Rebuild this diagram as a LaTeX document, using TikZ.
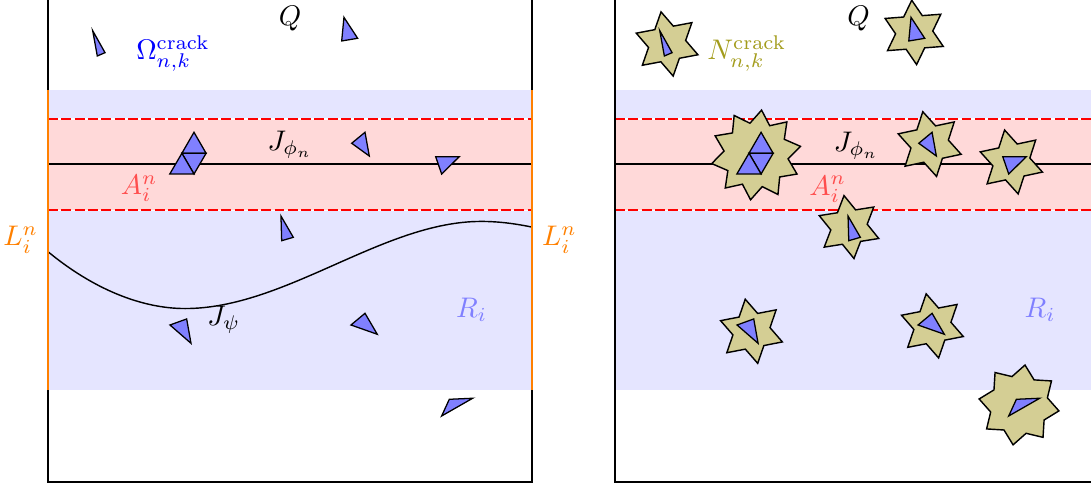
\documentclass[tikz,border=0pt]{standalone}
\usepackage{xcolor}
\usepackage{tikz}
\usetikzlibrary{shapes.geometric}
\definecolor{CBand}{HTML}{E5E5FF}
\definecolor{CStrip}{HTML}{FFD9D9}
\definecolor{CCrack}{HTML}{8080FF}
\definecolor{CNbhd}{HTML}{D4CE94}
\definecolor{CNbhdText}{HTML}{A39C1C}
\definecolor{CStripText}{HTML}{FF4D4D}

\newcommand{\bandsandlines}{%
  \fill[CBand] (0,1.14) rectangle (6,4.86);
  \fill[CStrip] (0,3.37) rectangle (6,4.50);
  \draw[bandedge] (0,4.50) -- (6,4.50);
  \draw[bandedge] (0,3.37) -- (6,3.37);
  \draw[line width=0.5pt] (0,3.94) -- (6,3.94);
}
\newcommand{\cracks}{%
  \foreach \a/\b/\c in {{0.554,5.595}/{0.707,5.322}/{0.611,5.281},
                        {3.669,5.760}/{3.839,5.500}/{3.641,5.467},
                        {1.81,4.335}/{1.66,4.075}/{1.96,4.075},
                        {1.66,4.075}/{1.96,4.075}/{1.81,3.818},
                        {1.66,4.075}/{1.51,3.818}/{1.81,3.818},
                        {3.930,4.335}/{3.983,4.041}/{3.765,4.199},
                        {4.806,4.033}/{5.099,4.033}/{4.880,3.818},
                        {2.888,3.297}/{3.041,3.033}/{2.897,2.991},
                        {1.512,1.946}/{1.719,2.021}/{1.773,1.719},
                        {3.756,1.946}/{3.930,2.091}/{4.082,1.831},
                        {4.880,0.818}/{4.975,1.025}/{5.265,1.038}}
    \filldraw[crack] (\a) -- (\b) -- (\c) -- cycle;
}

\begin{document}
\begin{tikzpicture}[
  bandedge/.style={red, line width=0.5pt, dash pattern=on 3.5pt off 1.2pt, preaction={draw=white, solid}},
  crack/.style={draw=black, fill=CCrack, line width=0.45pt},
  nbhd/.style={star, draw=black, fill=CNbhd, line width=0.5pt, inner sep=0pt, star point ratio=1.73},
  panel/.style={draw=black, line width=0.6pt},
  bound/.style={orange, line width=0.7pt}]
\useasboundingbox (-0.595,-0.062) rectangle (12.93,5.975);
\clip (-0.595,-0.062) rectangle (12.93,5.975);

\bandsandlines
\draw[line width=0.5pt] (0,2.855) .. controls (0.55,2.40) and (1.15,2.15) .. (1.70,2.15)
  .. controls (2.95,2.15) and (4.15,3.23) .. (5.37,3.23)
  .. controls (5.6,3.23) and (5.8,3.20) .. (6,3.16);
\cracks
\draw[panel] (0,0) rectangle (6,6);
\draw[bound] (0,1.14) -- (0,4.86);
\draw[bound] (6,1.14) -- (6,4.86);
\node (Ql) at (3.0,5.74) {$Q$};
\node[text=blue, anchor=west] (Oml) at (0.97,5.31) {$\Omega_{n,k}^{\mathrm{crack}}$};
\node (Jphil) at (3.0,4.18) {$J_{\phi_n}$};
\node[text=CStripText] (Al) at (1.13,3.64) {$A_i^n$};
\node (Jpsil) at (2.18,2.01) {$J_\psi$};
\node[text=CCrack] (Rl) at (5.25,2.13) {$R_i$};
\node[text=orange, anchor=east] (Lleft) at (0,3.0) {$L_i^n$};
\node[text=orange, anchor=west] (Lright) at (6,3.0) {$L_i^n$};

\begin{scope}[xshift=7.03cm]
\bandsandlines
\node[nbhd, star points=6, minimum size=0.81cm, shape border rotate=10.7] (s1) at (0.645,5.430) {};
\node[nbhd, star points=6, minimum size=0.80cm, shape border rotate=4.3] (s2) at (3.708,5.573) {};
\node[nbhd, star points=10, minimum size=1.12cm, shape border rotate=29, star point ratio=1.4] (s3) at (1.748,4.054) {};
\node[nbhd, star points=6, minimum size=0.82cm, shape border rotate=12] (s4) at (3.900,4.189) {};
\node[nbhd, star points=6, minimum size=0.81cm, shape border rotate=12] (s5) at (4.913,3.967) {};
\node[nbhd, star points=6, minimum size=0.79cm, shape border rotate=9] (s6) at (2.900,3.160) {};
\node[nbhd, star points=6, minimum size=0.81cm, shape border rotate=11] (s7) at (1.691,1.868) {};
\node[nbhd, star points=6, minimum size=0.81cm, shape border rotate=11] (s8) at (3.934,1.935) {};
\node[nbhd, star points=8, minimum size=1.0cm, shape border rotate=-8.5, star point ratio=1.38] (s9) at (5.008,0.955) {};
\cracks
\draw[panel] (0,0) rectangle (6,6);
\node (Qr) at (3.02,5.74) {$Q$};
\node[text=CNbhdText, anchor=west] (Nr) at (1.02,5.31) {$N_{n,k}^{\mathrm{crack}}$};
\node (Jphir) at (2.99,4.17) {$J_{\phi_n}$};
\node[text=CStripText] (Ar) at (2.635,3.63) {$A_i^n$};
\node[text=CCrack] (Rr) at (5.27,2.13) {$R_i$};
\end{scope}
\end{tikzpicture}
\end{document}
